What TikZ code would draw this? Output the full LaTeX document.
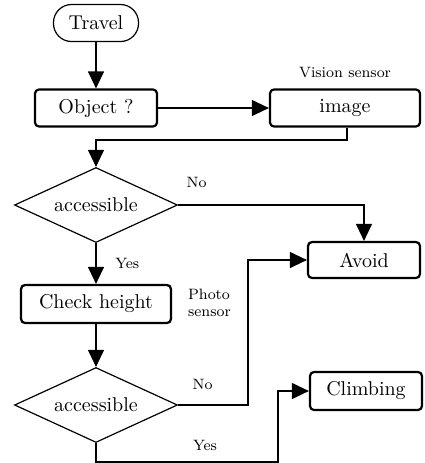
\documentclass[tikz,border=0pt]{standalone}
\usepackage{amsmath}
\usepackage{tikz}
\usetikzlibrary{shapes.geometric,arrows.meta,positioning,calc}

\tikzset{
  flowbox/.style={draw,rounded corners=2pt,line width=1.1pt,inner sep=0pt},
  decision/.style={draw,diamond,aspect=2.2,line width=0.6pt,inner sep=0pt,
    minimum width=81.5pt,minimum height=37.5pt},
  flow/.style={-{Triangle[length=8.5pt,width=8pt]},line width=0.6pt},
  tag/.style={font=\fontsize{7.5}{8.5}\selectfont}
}

\begin{document}
\begin{tikzpicture}[x=0.5pt,y=-0.5pt,font=\normalsize]
    \useasboundingbox (0,0) rectangle (425,463);
    % start and process boxes
    \node[draw,rounded corners=9pt,line width=0.6pt,minimum width=42.5pt,minimum height=18.5pt] (travel) at (96,23) {Travel};
    \node[flowbox,minimum width=61pt,minimum height=18.5pt] (object) at (96,108) {Object ?};
    \node[flowbox,minimum width=75pt,minimum height=18.5pt] (image) at (345,108) {image};
    \node[decision] (acc1) at (96,205) {accessible};
    \node[flowbox,minimum width=56pt,minimum height=18pt] (avoid) at (364,260) {Avoid};
    \node[flowbox,minimum width=75pt,minimum height=19pt] (check) at (96,304) {Check height};
    \node[decision] (acc2) at (96,405) {accessible};
    \node[flowbox,minimum width=56pt,minimum height=19pt] (climb) at (366,391) {Climbing};
    % sensor notes
    \node[tag,above=2pt] (vision) at (image.north) {Vision sensor};
    \node[tag,align=left,anchor=west] (photo) at (181,303) {Photo\\sensor};
    % connectors
    \coordinate (imgturn) at (347,140);
    \coordinate (noturn) at (248,405);
    \coordinate (yesturn) at (278,462);
    \draw[flow] (travel) -- (object);
    \draw[flow] (object) -- (image);
    \draw[flow] (imgturn |- image.south) -- (imgturn) -| (acc1.north);
    \draw[flow] (acc1.east) -| (avoid.north) node[tag,pos=0.05,above=5pt] (no1) {No};
    \draw[flow] (acc1.south) -- (check.north) node[tag,midway,right=6pt] (yes1) {Yes};
    \draw[flow] (check) -- (acc2);
    \draw[flow] (acc2.east) -- node[tag,pos=0.35,above=4pt] (no2) {No} (noturn) |- (avoid.west);
    \draw[flow] (acc2.south) |- (yesturn) |- (climb.west);
    \node[tag] (yes2) at (205,445) {Yes};
  \end{tikzpicture}
\end{document}
